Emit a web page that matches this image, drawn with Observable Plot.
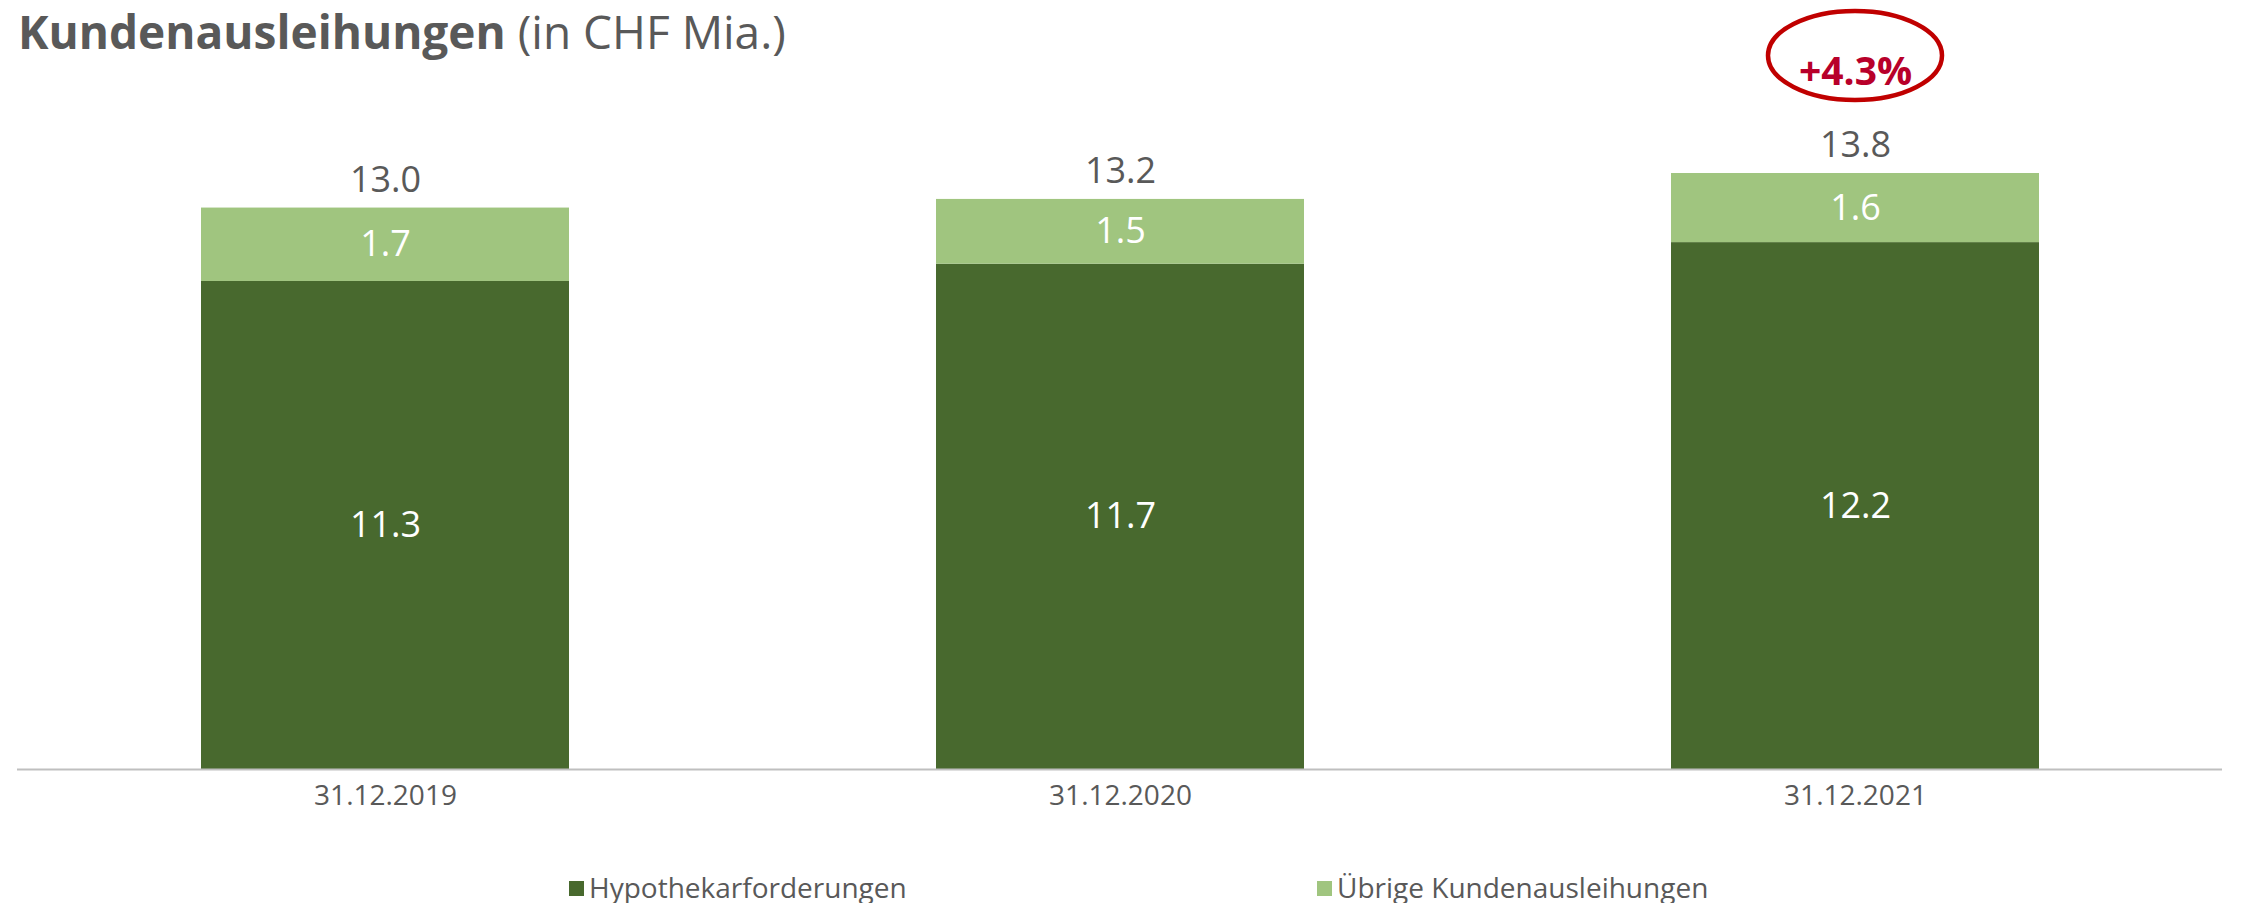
<!DOCTYPE html>
<html>
<head>
<meta charset="utf-8">
<script src="https://cdn.jsdelivr.net/npm/d3@7"></script>
<script src="https://cdn.jsdelivr.net/npm/@observablehq/plot@0.6"></script>
<style>
  html, body { margin: 0; padding: 0; background: #fff; }
  #wrap { position: relative; width: 2241px; height: 903px; font-family: "Open Sans", sans-serif; color: #595959; }
  #title { position: absolute; left: 18px; top: 0px; font-size: 46px; line-height: 63px; white-space: nowrap; }
  #title b { font-weight: 700; }
  #legend { position: absolute; top: 870px; left: 0; width: 2241px; height: 34px; font-size: 28px; line-height: 34px; }
  .item { position: absolute; top: 0; white-space: nowrap; }
  .sw { display: inline-block; width: 15px; height: 15px; margin-right: 5px; vertical-align: middle; position: relative; top: -2px; }
</style>
</head>
<body>
<div id="wrap">
  <div id="chart"></div>
  <div id="title"><b>Kundenausleihungen</b> (in CHF Mia.)</div>
  <div id="legend"></div>
</div>
<script>
const dates = ["31.12.2019", "31.12.2020", "31.12.2021"];
const seriesNames = ["Hypothekarforderungen", "Übrige Kundenausleihungen"];
const hypothekar = [11.3, 11.7, 12.2];
const uebrige = [1.7, 1.5, 1.6];
const totals = [13.0, 13.2, 13.8];
const growthLabel = "+4.3%";
const growthDate = "31.12.2021";
const colors = ["#48692E", "#A0C57F"];

const rows = [
  ...dates.map((d, i) => ({date: d, series: seriesNames[0], value: hypothekar[i]})),
  ...dates.map((d, i) => ({date: d, series: seriesNames[1], value: uebrige[i]}))
];
const totalRows = dates.map((d, i) => ({date: d, total: totals[i]}));
const fmt = d3.format(".1f");

const plot = Plot.plot({
  width: 2241,
  height: 830,
  marginLeft: 17,
  marginRight: 19,
  marginTop: 78,
  marginBottom: 61,
  style: {fontFamily: "Open Sans, sans-serif", background: "white", overflow: "visible"},
  x: {domain: dates, paddingInner: 0.5, paddingOuter: 0.25, label: null},
  y: {domain: [0, 16], axis: null},
  color: {domain: seriesNames, range: colors},
  marks: [
    Plot.barY(rows, {x: "date", y: "value", fill: "series"}),
    Plot.text(rows, Plot.stackY({x: "date", y: "value", z: "series", text: d => fmt(d.value), fill: "white", fontSize: 36})),
    Plot.text(totalRows, {x: "date", y: "total", text: d => fmt(d.total), dy: -28, fill: "#595959", fontSize: 36}),
    Plot.text([growthLabel], {x: () => growthDate, text: d => d, frameAnchor: "top", dy: -21, fill: "#B8002A", fontSize: 39, fontWeight: 700}),
    Plot.ruleY([0], {stroke: "#BFBFBF", strokeWidth: 2}),
    Plot.axisX({tickSize: 0, tickPadding: 16, fontSize: 28, color: "#595959", label: null})
  ]
});
document.getElementById("chart").appendChild(plot);

// ellipse around the growth annotation, positioned with the plot's own x scale
const xs = plot.scale("x");
const cx = xs.apply(growthDate) + xs.bandwidth / 2;
d3.select(plot).append("ellipse")
  .attr("cx", cx).attr("cy", 55.5)
  .attr("rx", 87).attr("ry", 44.5)
  .attr("fill", "none").attr("stroke", "#C00000").attr("stroke-width", 4.5);

// legend
const legendLeft = [569, 1317];
const legend = d3.select("#legend");
seriesNames.forEach((name, i) => {
  const it = legend.append("div").attr("class", "item").style("left", legendLeft[i] + "px");
  it.append("span").attr("class", "sw").style("background", colors[i]);
  it.append("span").text(name);
});
</script>
</body>
</html>
